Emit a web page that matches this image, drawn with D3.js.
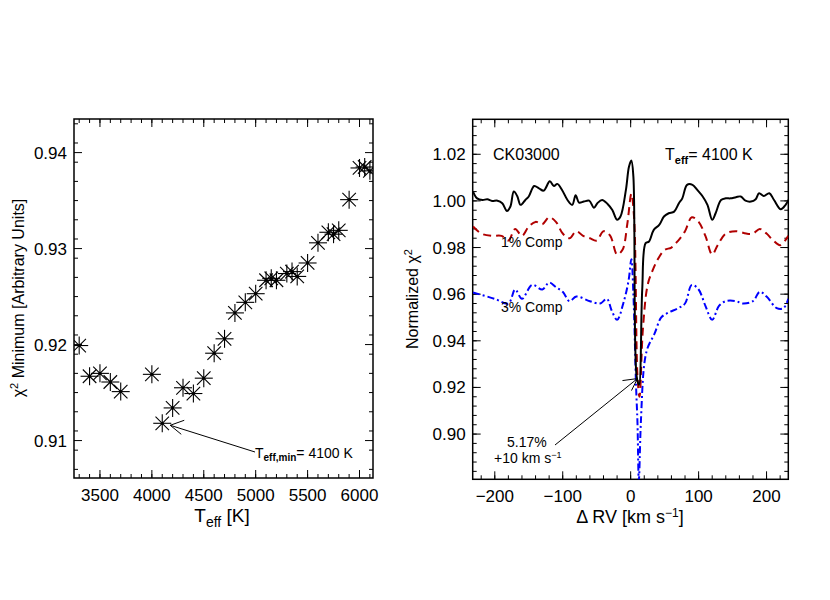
<!DOCTYPE html>
<html><head><meta charset="utf-8">
<script src="https://cdn.jsdelivr.net/npm/d3@7"></script>
<style>body{margin:0;background:#fff}svg text{font-family:"Liberation Sans",sans-serif}</style>
</head><body><svg id="c" width="830" height="600"></svg>
<script>
// ---- Left panel data
const teff = [3300,3400,3500,3600,3700,4000,4100,4200,4300,4400,4500,4600,4700,4800,4900,5000,5100,5150,5200,5300,5350,5400,5500,5600,5700,5750,5800,5900,6000,6050,6100];
const chi2 = [0.9199,0.9167,0.9170,0.9161,0.9151,0.9169,0.9118,0.9134,0.9155,0.9149,0.9165,0.9191,0.9206,0.9233,0.9244,0.9253,0.9267,0.9269,0.9267,0.9274,0.9276,0.9271,0.9285,0.9306,0.9317,0.9315,0.9319,0.9351,0.9384,0.9385,0.9381];
const leftXTicks = [3500,4000,4500,5000,5500,6000];
const leftYTicks = [0.91,0.92,0.93,0.94];
// ---- Right panel data
const rvBlack = [-232,-226,-218,-211,-204,-196,-189,-182,-177,-172,-167,-162,-155,-150,-142,-135,-128,-119,-113,-108,-101,-93,-86,-81,-76,-69,-61,-54,-49,-42,-34,-27,-20,-15,-7,-2.5,1,4,8.8,12.3,17,22,27,34,42,49,56,64,71,76,83,91,98,106,113,120,125,133,140,147,155,162,169,177,184,189,196,204,211,221,228,233];
const chiBlack = [1.0040,1.0011,1.0004,1.0007,1.0000,1.0001,0.9990,0.9957,0.9976,1.0040,1.0021,0.9983,1.0004,1.0019,1.0064,1.0054,1.0044,1.0084,1.0064,1.0073,1.0047,1.0004,0.9983,1.0024,0.9993,0.9997,1.0001,0.9971,0.9990,1.0004,0.9987,0.9961,0.9919,0.9933,1.0047,1.0147,1.0173,1.0104,0.9247,0.9211,0.9619,0.9819,0.9826,0.9876,0.9897,0.9933,0.9947,0.9954,0.9990,1.0011,1.0069,1.0069,1.0047,1.0019,0.9983,0.9919,0.9947,1.0004,1.0011,1.0011,1.0016,1.0019,1.0001,0.9997,1.0007,1.0033,1.0021,1.0033,1.0004,0.9964,0.9983,1.0007];
const rvRed = [-232,-220,-205,-190,-180,-170,-160,-150,-140,-130,-120,-110,-100,-90,-80,-70,-60,-50,-40,-30,-20,-12,-5,1,5,10,13,18,25,32,40,50,60,70,80,90,100,110,120,128,140,155,170,180,190,200,210,220,232];
const chiRed = [0.989,0.986,0.985,0.985,0.983,0.988,0.985,0.989,0.991,0.990,0.993,0.991,0.986,0.984,0.987,0.985,0.984,0.983,0.987,0.985,0.977,0.979,0.990,1.003,0.993,0.925,0.916,0.945,0.964,0.970,0.975,0.979,0.980,0.983,0.987,0.993,0.991,0.985,0.977,0.981,0.986,0.987,0.986,0.986,0.988,0.986,0.983,0.981,0.985];
const rvBlue = [-232,-200,-180,-170,-160,-145,-130,-120,-110,-100,-90,-80,-60,-45,-35,-28,-20,-10,-3,1,4,8,10,12,15,20,25,35,45,55,70,80,90,100,110,120,130,140,155,165,180,190,200,215,225,232];
const chiBlue = [0.9607,0.958,0.956,0.962,0.958,0.964,0.962,0.965,0.963,0.961,0.957,0.959,0.957,0.956,0.958,0.953,0.949,0.957,0.966,0.975,0.960,0.920,0.905,0.880,0.905,0.930,0.937,0.943,0.950,0.952,0.954,0.956,0.964,0.962,0.955,0.949,0.955,0.957,0.957,0.956,0.957,0.961,0.959,0.954,0.954,0.958];
const rightXTicks = [-200,-100,0,100,200];
const rightYTicks = [0.90,0.92,0.94,0.96,0.98,1.00,1.02];

const svg = d3.select("#c");
const defs = svg.append("defs");
const FS = 17;

function frame(g, x, y, xT, yT, xMinor, yMinor, xfmt, yfmt){
  const [x0,x1]=x.range(), [y1,y0]=y.range();
  g.append("rect").attr("x",x0).attr("y",y0).attr("width",x1-x0).attr("height",y1-y0)
   .attr("fill","none").attr("stroke","#000").attr("stroke-width",1.5);
  const tk = (arr,len,isX)=>arr.forEach(v=>{
    if(isX){const p=x(v);
      g.append("line").attr("x1",p).attr("x2",p).attr("y1",y1).attr("y2",y1-len).attr("stroke","#000");
      g.append("line").attr("x1",p).attr("x2",p).attr("y1",y0).attr("y2",y0+len).attr("stroke","#000");
    } else {const p=y(v);
      g.append("line").attr("y1",p).attr("y2",p).attr("x1",x0).attr("x2",x0+len).attr("stroke","#000");
      g.append("line").attr("y1",p).attr("y2",p).attr("x1",x1).attr("x2",x1-len).attr("stroke","#000");
    }});
  tk(xMinor,4,true); tk(yMinor,4,false); tk(xT,8,true); tk(yT,8,false);
  xT.forEach(v=>g.append("text").attr("x",x(v)).attr("y",y1+23).attr("text-anchor","middle").attr("font-size",FS).text(xfmt(v)));
  yT.forEach(v=>g.append("text").attr("x",x0-7).attr("y",y(v)+6).attr("text-anchor","end").attr("font-size",FS).text(yfmt(v)));
}

// ---- Left panel
const xL = d3.scaleLinear().domain([3250,6130]).range([74,373]);
const yL = d3.scaleLinear().domain([0.9061,0.9435]).range([478,119]);
const gL = svg.append("g");
frame(gL,xL,yL,leftXTicks,leftYTicks,d3.range(3300,6130,100),d3.range(0.907,0.9435,0.002),d=>d,d=>d.toFixed(2));
defs.append("clipPath").attr("id","cl").append("rect").attr("x",74).attr("y",119).attr("width",299).attr("height",359);
const pts = gL.append("g").attr("clip-path","url(#cl)");
teff.forEach((t,i)=>{
  const cx=xL(t), cy=yL(chi2[i]), r=9;
  const p=pts.append("g").attr("transform",`translate(${cx},${cy})`);
  [[r,0],[0,r],[r*0.75,r*0.75],[r*0.75,-r*0.75]].forEach(([a,b])=>p.append("line").attr("x1",-a).attr("y1",-b).attr("x2",a).attr("y2",b).attr("stroke","#000").attr("stroke-width",1.1));
  p.append("circle").attr("r",1.6);
});
const tipL=[xL(4100)+8,yL(0.9118)+2];
gL.append("line").attr("x1",255).attr("y1",452).attr("x2",tipL[0]).attr("y2",tipL[1]).attr("stroke","#000");
gL.append("path").attr("d",`M${tipL[0]+14},${tipL[1]-5}L${tipL[0]},${tipL[1]}L${tipL[0]+11},${tipL[1]+9}`).attr("fill","none").attr("stroke","#000");
const ta=gL.append("text").attr("x",255).attr("y",458).attr("font-size",14).attr("font-family","Liberation Serif");
ta.append("tspan").text("T");
ta.append("tspan").attr("font-size",10).attr("font-weight","bold").attr("dy",3).text("eff,min");
ta.append("tspan").attr("dy",-3).text("=  4100  K").attr("font-family","Liberation Sans").attr("font-size",14);
gL.append("text").attr("transform","translate(24,298) rotate(-90)").attr("text-anchor","middle").attr("font-size",16).attr("font-family","Liberation Serif")
  .html('χ<tspan dy="-6" font-size="11">2</tspan><tspan dy="6"> Minimum [Arbitrary Units]</tspan>');
gL.append("text").attr("x",222).attr("y",522).attr("text-anchor","middle").attr("font-size",19).attr("font-family","Liberation Serif")
  .html('T<tspan dy="5" font-size="14">eff</tspan><tspan dy="-5"> [K]</tspan>');

// ---- Right panel
const xR = d3.scaleLinear().domain([-232.5,232]).range([472.7,788.3]);
const yR = d3.scaleLinear().domain([0.8806,1.035]).range([479.3,119.3]);
const gR = svg.append("g");
frame(gR,xR,yR,rightXTicks,rightYTicks,d3.range(-220,232,20),d3.range(0.884,1.035,0.004),d=>d<0?"\u2212"+(-d):d,d=>d.toFixed(2));
defs.append("clipPath").attr("id","cr").append("rect").attr("x",472.7).attr("y",119.3).attr("width",315.6).attr("height",360);
const lines=gR.append("g").attr("clip-path","url(#cr)");
const ln=(xs,ys)=>d3.line().x((d,i)=>xR(xs[i])).y((d,i)=>yR(ys[i])).curve(d3.curveCatmullRom.alpha(0.5))(xs);
lines.append("path").attr("d",ln(rvBlue,chiBlue)).attr("fill","none").attr("stroke","#0000ff").attr("stroke-width",2).attr("stroke-dasharray","7,3,2,3");
lines.append("path").attr("d",ln(rvRed,chiRed)).attr("fill","none").attr("stroke","#b00000").attr("stroke-width",2).attr("stroke-dasharray","8,5");
lines.append("path").attr("d",ln(rvBlack,chiBlack)).attr("fill","none").attr("stroke","#000").attr("stroke-width",2);
gR.append("text").attr("x",493).attr("y",160).attr("font-size",16).text("CK03000");
gR.append("text").attr("x",665).attr("y",160).attr("font-size",16)
  .html('T<tspan dy="4" font-size="11" font-weight="bold">eff</tspan><tspan dy="-4">=  4100  K</tspan>');
gR.append("text").attr("x",501).attr("y",247).attr("font-size",14).attr("font-family","Liberation Serif").text("1% Comp");
gR.append("text").attr("x",501).attr("y",312).attr("font-size",14).attr("font-family","Liberation Serif").text("3% Comp");
gR.append("text").attr("x",507).attr("y",447).attr("font-size",14).attr("font-family","Liberation Serif").text("5.17%");
gR.append("text").attr("x",494).attr("y",463).attr("font-size",14).attr("font-family","Liberation Serif")
  .html('+10 km s<tspan dy="-5" font-size="9">−1</tspan>');
const tipR=[xR(10),yR(0.9238)];
gR.append("line").attr("x1",555).attr("y1",445).attr("x2",tipR[0]).attr("y2",tipR[1]).attr("stroke","#000");
gR.append("path").attr("d",`M${tipR[0]-15},${tipR[1]+2}L${tipR[0]},${tipR[1]}L${tipR[0]-6},${tipR[1]+12}`).attr("fill","none").attr("stroke","#000");
gR.append("text").attr("transform","translate(418,299) rotate(-90)").attr("text-anchor","middle").attr("font-size",16)
  .html('Normalized χ<tspan dy="-6" font-size="11">2</tspan>');
gR.append("text").attr("x",630).attr("y",523).attr("text-anchor","middle").attr("font-size",18).attr("font-family","Liberation Serif")
  .html('Δ RV [km s<tspan dy="-6" font-size="12">−1</tspan><tspan dy="6">]</tspan>');
</script></body></html>
